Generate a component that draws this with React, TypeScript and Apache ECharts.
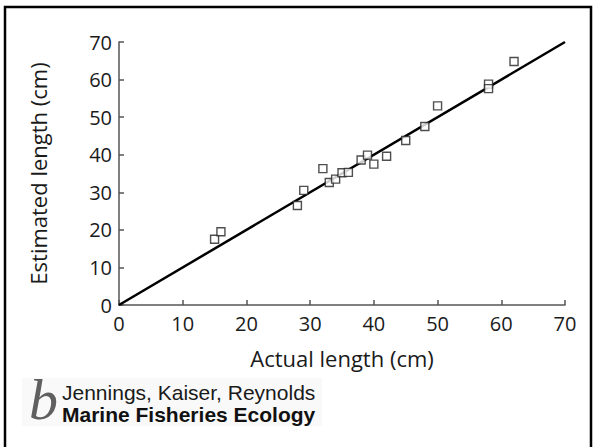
import React, { useEffect, useRef } from "react";
import * as echarts from "echarts";

const actualLength = [15, 16, 28, 29, 32, 33, 34, 35, 36, 38, 39, 40, 42, 45, 48, 50, 58, 58, 62];
const estimatedLength = [17.5, 19.5, 26.5, 30.5, 36.3, 32.6, 33.5, 35.2, 35.3, 38.6, 39.9, 37.5, 39.6, 43.8, 47.5, 53, 58.8, 57.6, 64.8];
const lineX = [0, 70];
const lineY = [0, 70];
const xTicks = [0, 10, 20, 30, 40, 50, 60, 70];
const yTicks = [0, 10, 20, 30, 40, 50, 60, 70];
const xName = "Actual length (cm)";
const yName = "Estimated length (cm)";
const creditAuthors = "Jennings, Kaiser, Reynolds";
const creditTitle = "Marine Fisheries Ecology";

export default function App() {
  const ref = useRef<HTMLDivElement>(null);
  useEffect(() => {
    if (!ref.current) return;
    const chart = echarts.init(ref.current, null, { renderer: "svg" });
    const font = "'Open Sans', 'Noto Sans', sans-serif";
    chart.setOption({
      animation: false,
      backgroundColor: "#ffffff",
      grid: { left: 119, top: 42, right: 29, bottom: 142, containLabel: false },
      xAxis: {
        type: "value",
        min: xTicks[0],
        max: xTicks[xTicks.length - 1],
        interval: 10,
        name: xName,
        nameLocation: "middle",
        nameGap: 42,
        nameTextStyle: { fontFamily: font, fontSize: 22, color: "#1a1a1a" },
        axisLine: { show: true, lineStyle: { color: "#555", width: 1.5 } },
        axisTick: { show: true, inside: true, length: 5, lineStyle: { color: "#555", width: 1.5 } },
        axisLabel: { fontFamily: font, fontSize: 20, color: "#1a1a1a", margin: 8 },
        splitLine: { show: false },
      },
      yAxis: {
        type: "value",
        min: yTicks[0],
        max: yTicks[yTicks.length - 1],
        interval: 10,
        name: yName,
        nameLocation: "middle",
        nameGap: 70,
        nameRotate: 90,
        nameTextStyle: { fontFamily: font, fontSize: 22, color: "#1a1a1a" },
        axisLine: { show: true, lineStyle: { color: "#555", width: 1.5 } },
        axisTick: { show: true, inside: true, length: 5, lineStyle: { color: "#555", width: 1.5 } },
        axisLabel: { fontFamily: font, fontSize: 20, color: "#1a1a1a", margin: 7 },
        splitLine: { show: false },
      },
      series: [
        {
          type: "line",
          data: lineX.map((x, i) => [x, lineY[i]]),
          showSymbol: false,
          symbol: "none",
          lineStyle: { color: "#000", width: 2.5 },
          z: 2,
        },
        {
          type: "scatter",
          data: actualLength.map((x, i) => [x, estimatedLength[i]]),
          symbol: "rect",
          symbolSize: 8,
          itemStyle: { color: "#ffffff", borderColor: "#222", borderWidth: 1.4 },
          z: 3,
        },
      ],
      graphic: [
        {
          type: "rect",
          shape: { x: 5, y: 7, width: 586, height: 460 },
          style: { fill: "none", stroke: "#000", lineWidth: 2.5 },
          silent: true,
        },
        {
          type: "rect",
          shape: { x: 22, y: 378, width: 300, height: 48 },
          style: { fill: "#f9f9f9" },
          silent: true,
        },
        {
          type: "text",
          x: 29,
          y: 428,
          style: {
            text: "b",
            font: "italic 58px 'Liberation Serif', 'DejaVu Serif', serif",
            fill: "#606060",
            textVerticalAlign: "bottom",
          },
        },
        {
          type: "text",
          x: 62,
          y: 392,
          style: {
            text: creditAuthors,
            font: "21px 'Liberation Sans', Arial, sans-serif",
            fill: "#1a1a1a",
            textVerticalAlign: "middle",
          },
        },
        {
          type: "text",
          x: 62,
          y: 414,
          style: {
            text: creditTitle,
            font: "bold 21px 'Liberation Sans', Arial, sans-serif",
            fill: "#111",
            textVerticalAlign: "middle",
          },
        },
      ],
    });
    return () => chart.dispose();
  }, []);
  return <div ref={ref} style={{ position: "fixed", left: 0, top: 0, width: 594, height: 447 }} />;
}
